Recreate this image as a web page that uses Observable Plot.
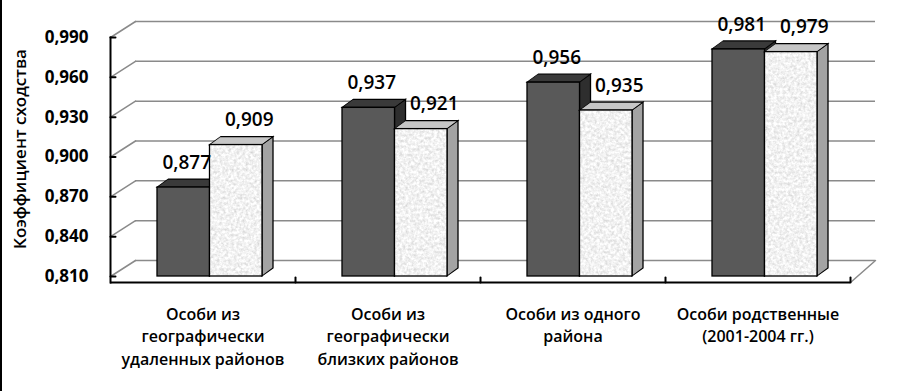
<!DOCTYPE html>
<html><head><meta charset="utf-8">
<script src="https://cdn.jsdelivr.net/npm/d3@7"></script>
<script src="https://cdn.jsdelivr.net/npm/@observablehq/plot@0.6"></script>
<style>
body{margin:0;background:#fff;}
#wrap{position:relative;width:910px;height:391px;}
#edge{position:absolute;left:0;top:0;width:2px;height:391px;background:#000;}
#wrap svg{position:absolute;left:0;top:0;}
.side rect{transform-box:fill-box;transform-origin:0 0;transform:skewY(-36.03deg);}
.top rect{transform-box:fill-box;transform-origin:0 100%;transform:skewX(-53.97deg);}
</style></head><body>
<svg width="0" height="0" style="position:absolute">
<defs>
<filter id="noise" x="0" y="0" width="100%" height="100%" color-interpolation-filters="sRGB">
<feTurbulence type="fractalNoise" baseFrequency="0.35" numOctaves="3" seed="4"/>
<feColorMatrix type="saturate" values="0"/>
<feComponentTransfer>
<feFuncR type="linear" slope="0.36" intercept="0.77"/>
<feFuncG type="linear" slope="0.36" intercept="0.77"/>
<feFuncB type="linear" slope="0.36" intercept="0.77"/>
<feFuncA type="linear" slope="0" intercept="1"/>
</feComponentTransfer>
</filter>
<pattern id="granite" patternUnits="userSpaceOnUse" width="300" height="300">
<rect width="300" height="300" fill="#eee" filter="url(#noise)"/>
</pattern>
</defs></svg>
<div id="wrap"><div id="edge"></div></div>
<script>
const categories = [
  "Особи из\nгеографически\nудаленных районов",
  "Особи из\nгеографически\nблизких районов",
  "Особи из одного\nрайона",
  "Особи родственные\n(2001-2004 гг.)"
];
const series1 = [0.877, 0.937, 0.956, 0.981];
const series2 = [0.909, 0.921, 0.935, 0.979];
const yTicks = [0.81, 0.84, 0.87, 0.90, 0.93, 0.96, 0.99];
const yTitle = "Коэффициент сходства";

const rows = categories.map((cat, i) => ({cat, a: series1[i], b: series2[i]}));
const fmt = v => d3.format(".3f")(v).replace(".", ",");
const yMin = yTicks[0], yMax = yTicks[yTicks.length - 1];

const band = 105, half = band / 2, D = 11, H = 8;
const seg = (dx, dy) => ({draw(ctx) { ctx.moveTo(0, 0); ctx.lineTo(dx, dy); }});
const grid = {stroke: "#8a8a8a", strokeWidth: 1.5};
const edge = {x: "cat", stroke: "#000", strokeWidth: 1.3};

const chart = Plot.plot({
  width: 910, height: 391,
  marginLeft: 110, marginRight: 60, marginTop: 37, marginBottom: 109,
  style: {fontFamily: "'Open Sans', sans-serif", color: "#000", background: "transparent", overflow: "visible"},
  x: {type: "band", domain: categories, range: [117, 857], paddingInner: 0.4324, paddingOuter: 0.2162, align: 0.5, round: false},
  y: {domain: [yMin, yMax], range: [276, 37]},
  marks: [
    Plot.ruleY(yTicks, {dx: 25, dy: -16, ...grid}),
    Plot.vector(yTicks, {y: d => d, frameAnchor: "left", anchor: "start", shape: seg(25, -16), ...grid}),
    Plot.vector([yMin], {y: d => d, frameAnchor: "right", dy: 6, anchor: "start", shape: seg(25, -22), ...grid}),

    Plot.barY(rows, {...edge, y1: yMin, y2: "a", insetLeft: half, insetRight: half - D, fill: "#2e2e2e", className: "side"}),
    Plot.barY(rows, {...edge, y1: "a", y2: "a", insetTop: -H, insetRight: half, fill: "#3a3a3a", className: "top"}),
    Plot.barY(rows, {...edge, y1: yMin, y2: "a", insetRight: half, fill: "#595959"}),
    Plot.barY(rows, {...edge, y1: yMin, y2: "b", insetLeft: band, insetRight: -D, fill: "#a3a3a3", className: "side"}),
    Plot.barY(rows, {...edge, y1: "b", y2: "b", insetTop: -H, insetLeft: half, fill: "#c6c6c6", className: "top"}),
    Plot.barY(rows, {...edge, y1: yMin, y2: "b", insetLeft: half, fill: "url(#granite)"}),

    Plot.frame({anchor: "left", stroke: "#000", strokeWidth: 2}),
    Plot.ruleY([yMin], {dy: 6, stroke: "#000", strokeWidth: 2}),
    Plot.vector(yTicks, {y: d => d, frameAnchor: "left", anchor: "start", shape: seg(5, 0), stroke: "#000", strokeWidth: 2}),
    Plot.vector(categories, {x: d => d, y: () => yMin, dx: 85.5, dy: 6, anchor: "start", shape: seg(0, -5), stroke: "#000", strokeWidth: 2}),

    Plot.axisY(yTicks, {tickSize: 0, tickPadding: 22, tickFormat: fmt, fontSize: 17, fontWeight: "bold", label: null}),
    Plot.axisX({tickSize: 0, tickPadding: 21, dx: -7, fontSize: 16, fontWeight: 600, lineHeight: 1.42, label: null}),
    Plot.text([yTitle], {frameAnchor: "left", dx: -90, dy: -11, rotate: -90, textAnchor: "middle", fontSize: 17, fontWeight: 600}),

    Plot.text(rows, {x: "cat", y: "a", text: d => fmt(d.a), dx: -half / 2 + 3, dy: -25, fontSize: 19, fontWeight: 600}),
    Plot.text(rows, {x: "cat", y: "b", text: d => fmt(d.b), dx: half / 2 + 13, dy: -25, fontSize: 19, fontWeight: 600})
  ]
});
document.getElementById("wrap").appendChild(chart);
</script>
</body></html>
